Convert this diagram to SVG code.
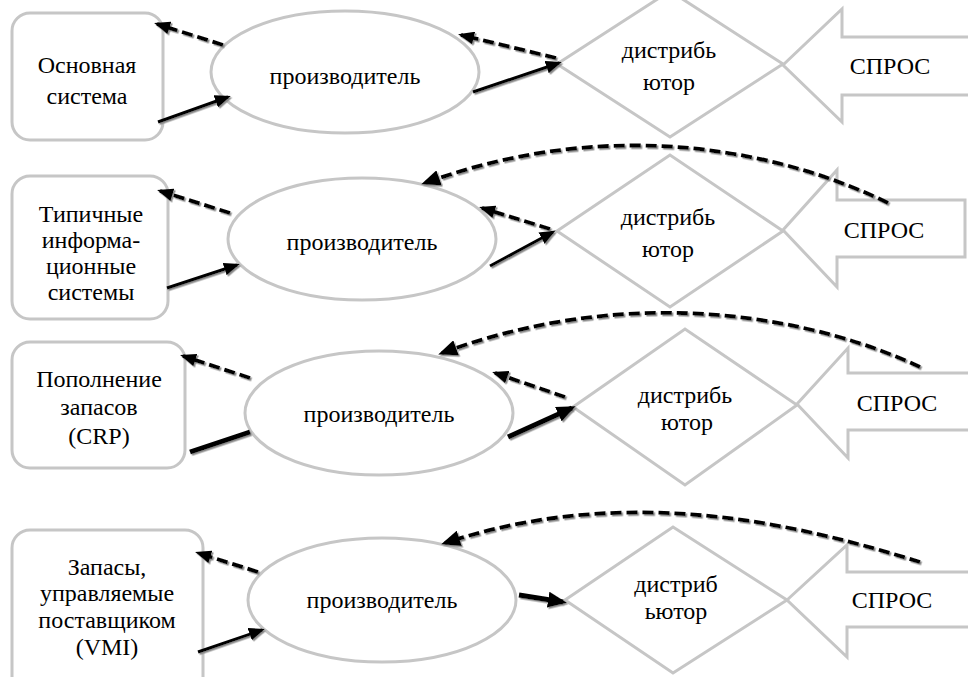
<svg xmlns="http://www.w3.org/2000/svg" width="968" height="677" viewBox="0 0 968 677">
  <defs>
    <style>
      .box { fill: #ffffff; stroke: #c6c6c6; stroke-width: 3; }
      .shape { fill: none; stroke: #c6c6c6; stroke-width: 3; }
      .label { font-family: 'Liberation Serif', 'Times New Roman', serif; font-size: 24px; fill: #000000; text-anchor: middle; }
      .solid { fill: none; stroke: #000000; stroke-width: 3; }
      .thick { fill: none; stroke: #000000; stroke-width: 5; }
      .dash { fill: none; stroke: #000000; stroke-width: 3.8; stroke-dasharray: 11 5; }
    </style>
    <marker id="head" markerUnits="userSpaceOnUse" markerWidth="17" markerHeight="13" refX="13" refY="6.5" orient="auto">
      <path d="M0,0 L16,6.5 L0,13 z" fill="#000000"/>
    </marker>
    <marker id="headBig" markerUnits="userSpaceOnUse" markerWidth="20" markerHeight="16" refX="15" refY="8" orient="auto">
      <path d="M0,0 L19,8 L0,16 z" fill="#000000"/>
    </marker>
    <filter id="shadow" x="-10%" y="-10%" width="120%" height="130%">
      <feDropShadow dx="1.5" dy="1.5" stdDeviation="0.3" flood-color="#8a8a8a" flood-opacity="1"/>
    </filter>
  </defs>
  <rect width="968" height="677" fill="#ffffff"/>

  <!-- Row 1 -->
  <g id="system1">
    <rect class="box" x="12" y="13" width="151" height="127" rx="18"/>
    <text class="label" x="87" y="73">Основная</text>
    <text class="label" x="87" y="104">система</text>
  </g>
  <g id="producer1">
    <ellipse class="shape" cx="345" cy="72" rx="134" ry="61"/>
    <text class="label" x="345" y="84">производитель</text>
  </g>
  <g id="distributor1">
    <polygon class="shape" points="557,64 670,-9 783,64 670,137"/>
    <text class="label" x="669" y="58">дистрибь</text>
    <text class="label" x="669" y="90">ютор</text>
  </g>
  <g id="demand1">
    <polygon class="shape" points="783,65 842,9 842,37 975,37 975,95 842,95 842,122"/>
    <text class="label" x="890" y="74">СПРОС</text>
  </g>

  <!-- Row 2 -->
  <g id="system2">
    <rect class="box" x="12" y="176" width="156" height="143" rx="18"/>
    <text class="label" x="91" y="222">Типичные</text>
    <text class="label" x="91" y="248">информа-</text>
    <text class="label" x="91" y="274">ционные</text>
    <text class="label" x="91" y="300">системы</text>
  </g>
  <g id="producer2">
    <ellipse class="shape" cx="362" cy="239" rx="134" ry="61"/>
    <text class="label" x="362" y="250">производитель</text>
  </g>
  <g id="distributor2">
    <polygon class="shape" points="557,231 670,155 783,231 670,307"/>
    <text class="label" x="668" y="225">дистрибь</text>
    <text class="label" x="668" y="257">ютор</text>
  </g>
  <g id="demand2">
    <polygon class="shape" points="783,230 837,170 837,200 965,200 965,257 837,257 837,287"/>
    <text class="label" x="884" y="238">СПРОС</text>
  </g>

  <!-- Row 3 -->
  <g id="system3">
    <rect class="box" x="12" y="342" width="173" height="126" rx="18"/>
    <text class="label" x="99" y="387">Пополнение</text>
    <text class="label" x="99" y="415">запасов</text>
    <text class="label" x="99" y="444">(CRP)</text>
  </g>
  <g id="producer3">
    <ellipse class="shape" cx="379" cy="413" rx="134" ry="62"/>
    <text class="label" x="379" y="422">производитель</text>
  </g>
  <g id="distributor3">
    <polygon class="shape" points="573,407 685,329 797,405 685,485"/>
    <text class="label" x="685" y="403">дистрибь</text>
    <text class="label" x="687" y="430">ютор</text>
  </g>
  <g id="demand3">
    <polygon class="shape" points="797,404 848,348 848,373 975,373 975,430 848,430 848,458"/>
    <text class="label" x="897" y="411">СПРОС</text>
  </g>

  <!-- Row 4 -->
  <g id="system4">
    <rect class="box" x="12" y="530" width="191" height="165" rx="18"/>
    <text class="label" x="107" y="575">Запасы,</text>
    <text class="label" x="107" y="601">управляемые</text>
    <text class="label" x="107" y="628">поставщиком</text>
    <text class="label" x="107" y="655">(VMI)</text>
  </g>
  <g id="producer4">
    <ellipse class="shape" cx="382" cy="600" rx="134" ry="62"/>
    <text class="label" x="382" y="608">производитель</text>
  </g>
  <g id="distributor4">
    <polygon class="shape" points="565,600 673,527 787,600 673,673"/>
    <text class="label" x="676" y="592">дистриб</text>
    <text class="label" x="676" y="619">ьютор</text>
  </g>
  <g id="demand4">
    <polygon class="shape" points="787,600 847,545 847,572 975,572 975,627 847,627 847,657"/>
    <text class="label" x="892" y="608">СПРОС</text>
  </g>

  <!-- Connectors -->
  <g id="connectors" filter="url(#shadow)">
    <!-- row 1 -->
    <path class="dash" d="M223,45 L157,24" marker-end="url(#head)"/>
    <path class="solid" d="M158,122 L228,97" marker-end="url(#head)"/>
    <path class="dash" d="M556,58 L461,35" marker-end="url(#head)"/>
    <path class="solid" d="M473,92 L559,63" marker-end="url(#head)"/>
    <!-- row 2 -->
    <path class="dash" d="M230,213 L160,191" marker-end="url(#head)"/>
    <path class="solid" d="M167,288 L237,265" marker-end="url(#head)"/>
    <path class="dash" d="M550,229 L482,208" marker-end="url(#head)"/>
    <path class="solid" d="M490,266 L553,232" marker-end="url(#head)"/>
    <path class="dash" d="M888,203 C790,155 620,112 425,183" marker-end="url(#headBig)"/>
    <!-- row 3 -->
    <path class="dash" d="M250,378 L183,356" marker-end="url(#head)"/>
    <path class="thick" d="M190,452 L250,432"/>
    <path class="dash" d="M565,397 L495,373" marker-end="url(#head)"/>
    <path class="thick" d="M508,437 L572,408" marker-end="url(#headBig)"/>
    <path class="dash" d="M920,367 C820,320 640,280 442,353" marker-end="url(#headBig)"/>
    <!-- row 4 -->
    <path class="dash" d="M258,572 L198,553" marker-end="url(#head)"/>
    <path class="solid" d="M198,652 L262,630" marker-end="url(#head)"/>
    <path class="thick" d="M519,595 L563,602" marker-end="url(#headBig)"/>
    <path class="dash" d="M920,562 C800,525 630,482 445,543" marker-end="url(#headBig)"/>
  </g>
</svg>
